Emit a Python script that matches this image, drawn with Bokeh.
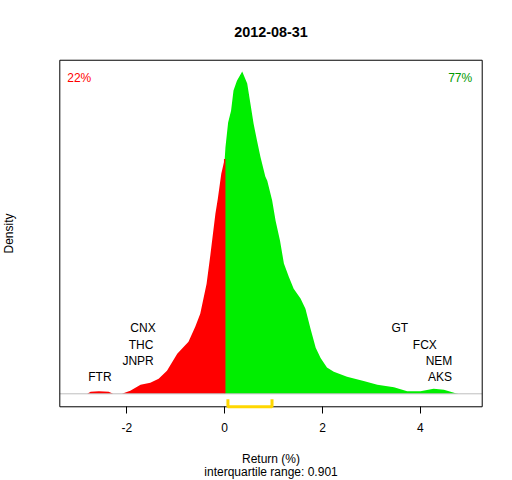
from bokeh.plotting import figure
from bokeh.models import Label, Range1d, FixedTicker
from bokeh.embed import file_html
from bokeh.resources import INLINE
import numpy as np

# ---- data ----
title_text = "2012-08-31"
ret_x = [-2.81, -2.74, -2.57, -2.37, -2.28, -2.10, -1.93, -1.72, -1.52, -1.35, -1.18, -0.97,
         -0.74, -0.60, -0.50, -0.37, -0.29, -0.19, -0.14, -0.07, 0.0, 0.015, 0.07, 0.13,
         0.18, 0.25, 0.358, 0.46, 0.526, 0.59, 0.66, 0.73, 0.83, 0.87, 0.97, 1.04, 1.13,
         1.21, 1.31, 1.41, 1.55, 1.65, 1.75, 1.86, 1.96, 2.09, 2.23, 2.50, 2.84, 3.12,
         3.46, 3.73, 4.00, 4.27, 4.48, 4.72, 4.78]
density = [0, 0.0043, 0.0054, 0.0043, 0, 0, 0.0065, 0.0196, 0.0239, 0.0326, 0.05, 0.087,
           0.113, 0.146, 0.174, 0.239, 0.304, 0.391, 0.424, 0.478, 0.510, 0.535, 0.589, 0.615,
           0.659, 0.680, 0.700, 0.674, 0.630, 0.587, 0.55, 0.515, 0.472, 0.463, 0.420, 0.376,
           0.333, 0.283, 0.254, 0.228, 0.207, 0.185, 0.143, 0.100, 0.078, 0.057, 0.048, 0.037,
           0.028, 0.0196, 0.0143, 0.0057, 0.0057, 0.0109, 0.0087, 0.0013, 0]
low_names = ["FTR", "JNPR", "THC", "CNX"]
low_returns = [-2.55, -1.77, -1.71, -1.67]
high_names = ["GT", "FCX", "NEM", "AKS"]
high_returns = [3.58, 4.09, 4.38, 4.40]
pct_neg = "22%"
pct_pos = "77%"
q1, q3 = 0.066, 0.967
iqr_text = "interquartile range: 0.901"
x_label = "Return (%)"
y_label = "Density"
x_ticks = [-2, 0, 2, 4]

# ---- layout (whole canvas is the frame) ----
W, H = 500, 480
xs, xe = -3.37, 5.263      # R box x limits (data)
ys, ye = -0.0282, 0.7245   # R box y limits (data)
pxu = 48.93                # px per x unit
pyu = 460.4                # px per y unit
zero_px_x = 224.2          # canvas px of x = 0
zero_px_y = 393.3          # canvas px of y = 0 (from top)
x0 = -zero_px_x / pxu
x1 = x0 + W / pxu
y1 = zero_px_y / pyu
y0 = y1 - H / pyu


def dx(px):
    return px / pxu


def dyp(px):
    return px / pyu


FONT = "Liberation Sans"

p = figure(width=W, height=H, output_backend="svg", toolbar_location=None,
           x_range=Range1d(x0, x1), y_range=Range1d(y0, y1),
           y_axis_location=None, title=None,
           min_border_left=0, min_border_right=0, min_border_top=0, min_border_bottom=0)
p.outline_line_color = None
p.grid.visible = False
p.background_fill_color = "white"
p.border_fill_color = "white"

ax = p.xaxis[0]
ax.fixed_location = ys
ax.ticker = FixedTicker(ticks=x_ticks)
ax.major_label_overrides = {t: str(t) for t in x_ticks}
ax.axis_line_color = None
ax.major_tick_out = 7
ax.major_tick_in = 0
ax.minor_tick_line_color = None
ax.major_tick_line_color = "black"
ax.major_label_text_font = FONT
ax.major_label_text_font_size = "12px"
ax.major_label_text_color = "black"
ax.major_label_standoff = 9

# density fill
rx = np.array(ret_x)
dd = np.array(density)
neg = rx <= 0
pos = rx >= 0
p.varea(x=rx[neg], y1=0, y2=dd[neg], fill_color="#FF0000")
p.varea(x=rx[pos], y1=0, y2=dd[pos], fill_color="#00EE00")
d0 = float(np.interp(0.0, rx, dd))
p.line(x=[0, 0], y=[0, d0], line_color="#FF0000", line_width=1.5)

# baseline
p.line(x=[xs, xe], y=[0, 0], line_color="#BEBEBE", line_width=1)

# R box
p.line(x=[xs, xe, xe, xs, xs], y=[ys, ys, ye, ye, ys], line_color="black", line_width=1)

# IQR bracket
btop = ys + dyp(7.5)
p.line(x=[q1, q1, q3, q3], y=[btop, ys, ys, btop], line_color="#FFD700", line_width=3)


def txt(x, y, s, align="center", color="black", size="12px", style="normal", angle=0.0):
    p.add_layout(Label(x=x, y=y, text=s, text_align=align, text_baseline="middle",
                       text_font=FONT, text_font_size=size, text_font_style=style,
                       text_color=color, angle=angle))


# stock labels
step = 0.0355
for lvl, i in enumerate(np.argsort(low_returns)):
    txt(low_returns[i], (lvl + 1) * step, low_names[i])
for lvl, i in enumerate(np.argsort(high_returns)[::-1]):
    txt(high_returns[i], (lvl + 1) * step, high_names[i])

# percentages
txt(xs + dx(7.4), ye - dyp(18), pct_neg, align="left", color="#FF0000")
txt(xe - dx(10), ye - dyp(18), pct_pos, align="right", color="#009900")

xc = (xs + xe) / 2
txt(xc, ye + dyp(28.4), title_text, size="14.4px", style="bold")
txt(xc, ys - dyp(52.7), x_label)
txt(xc, ys - dyp(65.4), iqr_text)
txt(xs - dx(51.3), (ys + ye) / 2, y_label, angle=np.pi / 2)

open("out.html", "w").write(file_html(p, INLINE))
